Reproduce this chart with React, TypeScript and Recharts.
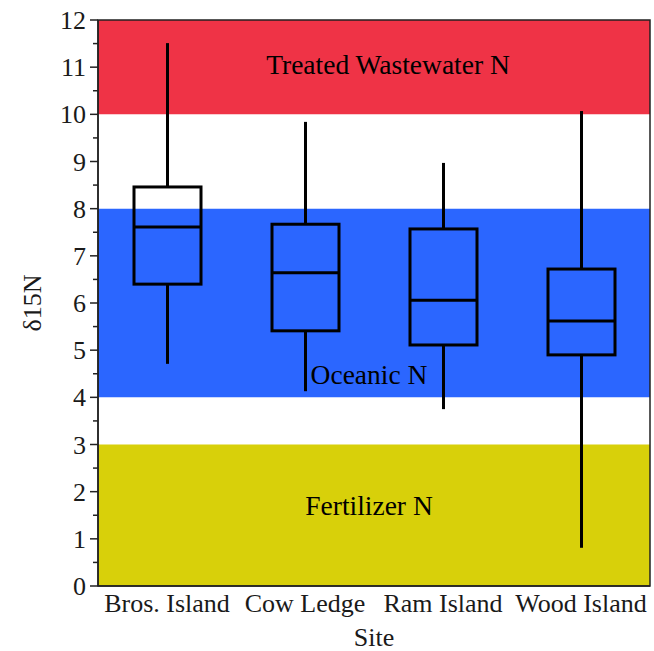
import { ComposedChart, Bar, XAxis, YAxis, ReferenceArea, Label } from 'recharts';

const sites = ['Bros. Island', 'Cow Ledge', 'Ram Island', 'Wood Island'];
const whiskerLow = [4.71, 4.13, 3.75, 0.81];
const q1 = [6.4, 5.41, 5.11, 4.9];
const median = [7.61, 6.64, 6.06, 5.62];
const q3 = [8.46, 7.67, 7.57, 6.72];
const whiskerHigh = [11.51, 9.84, 8.97, 10.07];

const yTicks = [0, 0.5, 1, 1.5, 2, 2.5, 3, 3.5, 4, 4.5, 5, 5.5, 6, 6.5, 7, 7.5, 8, 8.5, 9, 9.5, 10, 10.5, 11, 11.5, 12];

const bands = [
  { from: 10, to: 12, color: '#EF3346', label: 'Treated Wastewater N', frac: 0.47, dx: 14 },
  { from: 4, to: 8, color: '#2B66FF', label: 'Oceanic N', frac: 0.88, dx: -5 },
  { from: 0, to: 3, color: '#D8D00A', label: 'Fertilizer N', frac: 0.43, dx: -5 },
];

const FONT = '"Liberation Serif", "Times New Roman", serif';
const TEXT = '#1a1a1a';

const data = sites.map((site, i) => ({
  site,
  range: [whiskerLow[i], whiskerHigh[i]],
  low: whiskerLow[i],
  q1: q1[i],
  median: median[i],
  q3: q3[i],
  high: whiskerHigh[i],
}));

const BoxShape = (props: any) => {
  const { x, y, width, height, payload } = props;
  const { low, high } = payload;
  const k = height / (high - low);
  const py = (v: number) => y + (high - v) * k;
  const cx = x + width / 2;
  return (
    <g stroke="#000" strokeWidth={3} fill="none">
      <line x1={cx} x2={cx} y1={py(high)} y2={py(payload.q3)} />
      <line x1={cx} x2={cx} y1={py(payload.q1)} y2={py(low)} />
      <rect x={x} y={py(payload.q3)} width={width} height={py(payload.q1) - py(payload.q3)} />
      <line x1={x} x2={x + width} y1={py(payload.median)} y2={py(payload.median)} />
    </g>
  );
};

const YTick = (props: any) => {
  const { y, payload } = props;
  const v = payload.value;
  const major = Number.isInteger(v);
  return (
    <g>
      <line x1={98 - (major ? 8 : 5)} x2={98} y1={y} y2={y} stroke="#222" strokeWidth={1.5} />
      {major && (
        <text x={86} y={y} dy="0.35em" textAnchor="end" fontSize={26} fontFamily={FONT} fill={TEXT}>
          {v}
        </text>
      )}
    </g>
  );
};

const bandLabel = (text: string, frac: number, dx: number) => (p: any) => {
  const vb = p.viewBox;
  return (
    <text
      x={vb.x + vb.width / 2 + dx}
      y={vb.y + vb.height * frac}
      dy="0.35em"
      textAnchor="middle"
      fontSize={27.5}
      fontFamily={FONT}
      fill="#000"
    >
      {text}
    </text>
  );
};

export default function App() {
  return (
    <div style={{ position: 'absolute', left: 0, top: 0, background: '#fff' }}>
      <ComposedChart
        width={654}
        height={651}
        data={data}
        margin={{ top: 20, right: 4, bottom: 0, left: 0 }}
        barCategoryGap="25%"
        style={{ fontFamily: FONT }}
      >
        {bands.map((b) => (
          <ReferenceArea
            key={b.label}
            y1={b.from}
            y2={b.to}
            fill={b.color}
            fillOpacity={1}
            stroke="none"
            ifOverflow="visible"
            label={bandLabel(b.label, b.frac, b.dx)}
          />
        ))}
        <ReferenceArea y1={0} y2={12} fill="none" stroke="#222" strokeWidth={1.5} ifOverflow="visible" />
        <XAxis
          dataKey="site"
          height={65}
          tickLine={false}
          axisLine={{ stroke: '#222', strokeWidth: 1.5 }}
          tick={{ fontSize: 26, fill: TEXT, fontFamily: FONT }}
          interval={0}
        >
          <Label value="Site" position="insideBottom" offset={5} fontSize={26} fill={TEXT} fontFamily={FONT} />
        </XAxis>
        <YAxis
          width={98}
          domain={[0, 12]}
          ticks={yTicks}
          interval={0}
          tickLine={false}
          axisLine={{ stroke: '#222', strokeWidth: 1.5 }}
          tick={<YTick />}
        >
          <Label
            value="δ15N"
            angle={-90}
            position="insideLeft"
            offset={32}
            fontSize={26}
            fill={TEXT}
            fontFamily={FONT}
            style={{ textAnchor: 'middle' }}
          />
        </YAxis>
        <Bar dataKey="range" barSize={67} shape={<BoxShape />} isAnimationActive={false} />
      </ComposedChart>
    </div>
  );
}
